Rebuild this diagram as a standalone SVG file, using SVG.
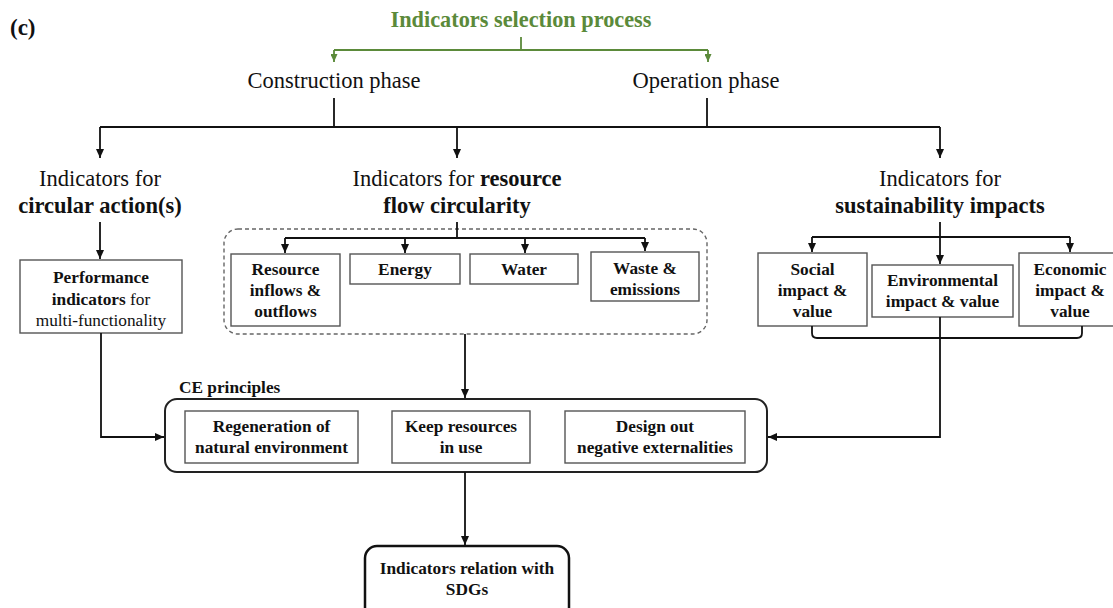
<svg xmlns="http://www.w3.org/2000/svg" width="1113" height="608" viewBox="0 0 1113 608" font-family="'Liberation Serif', 'DejaVu Serif', serif">
  <style>
    text { font-family: "Liberation Serif", "DejaVu Serif", serif; fill: #111; }
    .title { font-size: 22.3px; font-weight: bold; fill: #5b8a3a; text-anchor: middle; }
    .lbl { font-size: 23px; font-weight: bold; }
    .big { font-size: 22.5px; text-anchor: middle; }
    .bigb { font-size: 22.5px; font-weight: bold; text-anchor: middle; }
    .bx { font-size: 17.3px; font-weight: bold; text-anchor: middle; }
    .bxn { font-size: 17.3px; text-anchor: middle; }
    .left { text-anchor: start; }
    .box { fill: #fff; stroke: #555; stroke-width: 1.4; }
    .frame { fill: none; stroke: #222; stroke-width: 2; }
    .dash { fill: none; stroke: #666; stroke-width: 1.4; stroke-dasharray: 4 3; }
    .wire { fill: none; stroke: #111; stroke-width: 1.8; }
    .arr { fill: none; stroke: #111; stroke-width: 1.8; marker-end: url(#head); }
    .gwire { fill: none; stroke: #5b8a3a; stroke-width: 1.8; }
    .garr { fill: none; stroke: #5b8a3a; stroke-width: 1.8; marker-end: url(#ghead); }
  </style>
  <defs>
    <marker id="head" markerUnits="userSpaceOnUse" markerWidth="9" markerHeight="8" refX="9" refY="4" orient="auto">
      <path d="M0,0 L9,4 L0,8 z" fill="#111"/>
    </marker>
    <marker id="ghead" markerUnits="userSpaceOnUse" markerWidth="8" markerHeight="7" refX="8" refY="3.5" orient="auto">
      <path d="M0,0 L8,3.5 L0,7 z" fill="#5b8a3a"/>
    </marker>
  </defs>

  <rect width="1113" height="608" fill="#fff"/>

  <text class="lbl" x="10" y="35">(c)</text>

  <g id="selection">
    <text class="title" x="521" y="27">Indicators selection process</text>
  </g>

  <g id="construction">
    <text class="big" x="334" y="88">Construction phase</text>
  </g>
  <g id="operation">
    <text class="big" x="706" y="88">Operation phase</text>
  </g>

  <g id="circular-action">
    <text class="big" x="100" y="186">Indicators for</text>
    <text class="bigb" x="100" y="213">circular action(s)</text>
  </g>
  <g id="resource-flow">
    <text class="big" x="457" y="186">Indicators for <tspan font-weight="bold">resource</tspan></text>
    <text class="bigb" x="457" y="213">flow circularity</text>
  </g>
  <g id="sustainability">
    <text class="big" x="940" y="186">Indicators for</text>
    <text class="bigb" x="940" y="213">sustainability impacts</text>
  </g>

  <g id="performance">
    <rect class="box" x="20" y="260" width="162" height="73"/>
    <text class="bx" x="101" y="283">Performance</text>
    <text class="bx" x="101" y="305">indicators<tspan font-weight="normal"> for</tspan></text>
    <text class="bxn" x="101" y="326">multi-functionality</text>
  </g>

  <g id="flow-group">
    <rect class="dash" x="224" y="229" width="483" height="105" rx="14"/>
  </g>
  <g id="resource-inout">
    <rect class="box" x="231" y="254" width="109" height="72"/>
    <text class="bx" x="285.5" y="275">Resource</text>
    <text class="bx" x="285.5" y="296">inflows &amp;</text>
    <text class="bx" x="285.5" y="317">outflows</text>
  </g>
  <g id="energy">
    <rect class="box" x="350" y="254" width="110" height="30"/>
    <text class="bx" x="405" y="275">Energy</text>
  </g>
  <g id="water">
    <rect class="box" x="470" y="254" width="108" height="30"/>
    <text class="bx" x="524" y="275">Water</text>
  </g>
  <g id="waste">
    <rect class="box" x="591" y="252" width="108" height="49"/>
    <text class="bx" x="645" y="274">Waste &amp;</text>
    <text class="bx" x="645" y="295">emissions</text>
  </g>

  <g id="social">
    <rect class="box" x="758" y="253" width="109" height="73"/>
    <text class="bx" x="812.5" y="275">Social</text>
    <text class="bx" x="812.5" y="296">impact &amp;</text>
    <text class="bx" x="812.5" y="317">value</text>
  </g>
  <g id="environmental">
    <rect class="box" x="872" y="265" width="141" height="52"/>
    <text class="bx" x="942.5" y="286">Environmental</text>
    <text class="bx" x="942.5" y="307">impact &amp; value</text>
  </g>
  <g id="economic">
    <rect class="box" x="1019" y="253" width="100" height="73"/>
    <text class="bx" x="1070" y="275">Economic</text>
    <text class="bx" x="1070" y="296">impact &amp;</text>
    <text class="bx" x="1070" y="317">value</text>
  </g>

  <g id="ce-principles">
    <text class="bx left" x="179" y="393">CE principles</text>
    <rect class="frame" x="165" y="399" width="602" height="73" rx="12"/>
  </g>
  <g id="regeneration">
    <rect class="box" x="185" y="411" width="173" height="52"/>
    <text class="bx" x="271.5" y="432">Regeneration of</text>
    <text class="bx" x="271.5" y="453">natural environment</text>
  </g>
  <g id="keep-resources">
    <rect class="box" x="392" y="411" width="138" height="52"/>
    <text class="bx" x="461" y="432">Keep resources</text>
    <text class="bx" x="461" y="453">in use</text>
  </g>
  <g id="design-out">
    <rect class="box" x="565" y="411" width="180" height="52"/>
    <text class="bx" x="655" y="432">Design out</text>
    <text class="bx" x="655" y="453">negative externalities</text>
  </g>

  <g id="sdgs">
    <rect x="365" y="546" width="204" height="75" rx="12" fill="#fff" stroke="#111" stroke-width="2.5"/>
    <text class="bx" x="467" y="574">Indicators relation with</text>
    <text class="bx" x="467" y="595">SDGs</text>
  </g>

  <g id="connectors">
    <!-- selection process split -->
    <path class="gwire" d="M521,37 V50"/>
    <path class="gwire" d="M334,50 H708"/>
    <path class="garr" d="M334,50 V62"/>
    <path class="garr" d="M708,50 V62"/>

    <!-- phases into the three indicator families -->
    <path class="wire" d="M334,98 V127"/>
    <path class="wire" d="M707,98 V127"/>
    <path class="wire" d="M100,127 H940"/>
    <path class="arr" d="M100,127 V158"/>
    <path class="arr" d="M457,127 V158"/>
    <path class="arr" d="M940,127 V158"/>

    <!-- circular action -->
    <path class="arr" d="M100,222 V259"/>
    <path class="arr" d="M101,333 V437 H164"/>

    <!-- resource flow circularity -->
    <path class="wire" d="M457,222 V238"/>
    <path class="wire" d="M285,238 H645"/>
    <path class="arr" d="M285,238 V253"/>
    <path class="arr" d="M405,238 V253"/>
    <path class="arr" d="M525,238 V253"/>
    <path class="arr" d="M645,238 V251"/>
    <path class="arr" d="M465,334 V398"/>

    <!-- sustainability impacts -->
    <path class="arr" d="M940,222 V264"/>
    <path class="wire" d="M812,237 H1070"/>
    <path class="arr" d="M812,237 V252"/>
    <path class="arr" d="M1070,237 V252"/>
    <path class="wire" d="M812,326 V333 Q812,338 817,338 H1077 Q1082,338 1082,333 V326"/>
    <path class="arr" d="M940,317 V437 H768"/>

    <!-- CE principles to SDGs -->
    <path class="arr" d="M465,472 V545"/>
  </g>
</svg>
